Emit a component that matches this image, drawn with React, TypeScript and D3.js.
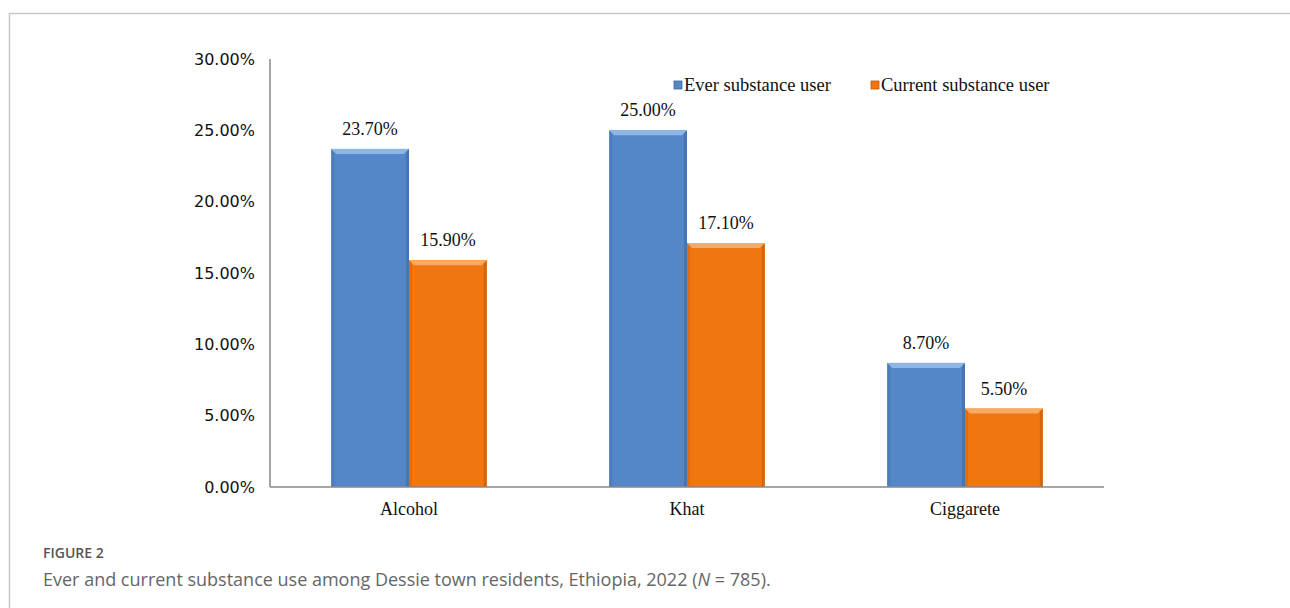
import React from "react";
import * as d3 from "d3";

const categories = ["Alcohol", "Khat", "Ciggarete"];
const seriesNames = ["Ever substance user", "Current substance user"];
const everValues = [23.7, 25.0, 8.7];
const currentValues = [15.9, 17.1, 5.5];
const yTicks = [0, 5, 10, 15, 20, 25, 30];

const W = 1290;
const H = 608;
const plot = { left: 270, right: 1104, top: 59, bottom: 487 };

const colors = {
  blue: { main: "#5487C7", light: "#8DB6E4", dark: "#3A679E" },
  orange: { main: "#F07612", light: "#F9AA62", dark: "#BF5808" },
};

function Bar({ x, y, w, h, c }: { x: number; y: number; w: number; h: number; c: { main: string; light: string; dark: string } }) {
  const b = 5;
  return (
    <g>
      <rect x={x} y={y} width={w} height={h} fill={c.main} />
      <polygon points={`${x},${y} ${x + w},${y} ${x + w - b},${y + b} ${x + b},${y + b}`} fill={c.light} />
      <polygon points={`${x + w},${y} ${x + w},${y + h} ${x + w - 3},${y + h} ${x + w - 3},${y + 3}`} fill={c.dark} opacity={0.55} />
      <polygon points={`${x},${y} ${x + 3},${y + 3} ${x + 3},${y + h} ${x},${y + h}`} fill={c.dark} opacity={0.3} />
    </g>
  );
}

export default function App() {
  const x0 = d3.scaleBand<string>().domain(categories).range([plot.left, plot.right]).paddingInner(0.44).paddingOuter(0.22);
  const x1 = d3.scaleBand<string>().domain(seriesNames).range([0, x0.bandwidth()]);
  const y = d3.scaleLinear().domain([0, 30]).range([plot.bottom, plot.top]);
  const serif = "'Liberation Serif', 'Times New Roman', serif";
  const sans = "Tahoma, 'DejaVu Sans', sans-serif";
  const seriesData = [everValues, currentValues];
  const seriesColors = [colors.blue, colors.orange];

  return (
    <svg width={W} height={H} style={{ display: "block", position: "absolute", left: 0, top: 0 }}>
      <rect width={W} height={H} fill="#fff" />
      <path d={`M9.5,${H} V13.5 H${W}`} fill="none" stroke="#c8c8c8" strokeWidth={1.5} />
      {yTicks.map((t) => (
        <text key={t} x={255} y={y(t)} dy="0.35em" textAnchor="end" fontFamily={sans} fontSize={16} fill="#111">
          {t.toFixed(2)}%
        </text>
      ))}
      {categories.map((cat, i) => (
        <g key={cat}>
          {seriesNames.map((s, j) => {
            const v = seriesData[j][i];
            const bx = (x0(cat) as number) + (x1(s) as number);
            const bw = x1.bandwidth();
            return (
              <g key={s}>
                <Bar x={bx} y={y(v)} w={bw} h={y(0) - y(v)} c={seriesColors[j]} />
                <text x={bx + bw / 2} y={y(v) - 14} textAnchor="middle" fontFamily={serif} fontSize={18} fill="#111">
                  {v.toFixed(2)}%
                </text>
              </g>
            );
          })}
          <text x={(x0(cat) as number) + x0.bandwidth() / 2} y={515} textAnchor="middle" fontFamily={serif} fontSize={18} fill="#111">
            {cat}
          </text>
        </g>
      ))}
      <line x1={plot.left} x2={plot.left} y1={plot.top} y2={plot.bottom} stroke="#888" strokeWidth={1.5} />
      <line x1={plot.left} x2={plot.right} y1={plot.bottom} y2={plot.bottom} stroke="#888" strokeWidth={1.5} />
      {seriesNames.map((s, j) => {
        const lx = [674, 871][j];
        return (
          <g key={s}>
            <rect x={lx} y={81} width={8} height={8} fill={seriesColors[j].main} stroke={seriesColors[j].dark} strokeWidth={0.8} />
            <text x={lx + 10} y={91} fontFamily={serif} fontSize={18.5} fill="#111">
              {s}
            </text>
          </g>
        );
      })}
      <text x={43} y={558} fontFamily="'Open Sans', sans-serif" fontSize={14} fontWeight={600} fill="#555">
        FIGURE 2
      </text>
      <text x={43} y={586} fontFamily="'Open Sans', sans-serif" fontSize={18} fill="#666">
        Ever and current substance use among Dessie town residents, Ethiopia, 2022 (<tspan fontStyle="italic">N</tspan> = 785).
      </text>
    </svg>
  );
}
